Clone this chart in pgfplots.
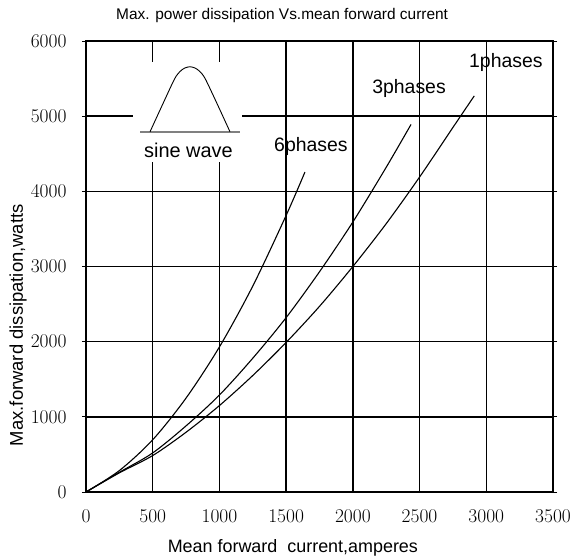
\documentclass[border=0pt]{standalone}
\usepackage{fontspec}
\setmainfont{Liberation Sans}
\newfontfamily\lmr{Latin Modern Roman}
\usepackage{pgfplots}
\pgfplotsset{compat=1.18}
\begin{document}
\begin{tikzpicture}
\begin{axis}[
  scale only axis, width=467bp, height=451bp,
  xmin=0, xmax=3500, ymin=0, ymax=6000,
  xtick={0,500,...,3500}, ytick={0,1000,...,6000},
  /pgf/number format/1000 sep={},
  /pgf/number format/assume math mode=true,
  scaled ticks=false,
  grid=major, grid style={black, line width=1.5bp},
  axis line style={black, line width=1.5bp},
  xtick style={draw=none},
  ytick style={black, line width=1bp},
  major tick length=4bp, tick align=outside,
  xticklabel style={font=\lmr\fontsize{19.5}{19.5}\selectfont, yshift=-10bp},
  yticklabel style={font=\lmr\fontsize{19.5}{19.5}\selectfont, xshift=-12bp},
  title={Max. power dissipation Vs.mean forward current},
  title style={at={(0.42,1)}, anchor=base, yshift=15.5bp, font=\fontsize{15.5}{15.5}\selectfont},
  xlabel={Mean forward\ \ current,amperes},
  xlabel style={at={(0.443,0)}, anchor=base, yshift=-60bp, font=\fontsize{18}{18}\selectfont},
  ylabel={Max.forward dissipation,watts},
  ylabel style={at={(-0.1456,0.37)}, anchor=center, font=\fontsize{18.5}{18.5}\selectfont},
  clip=false,
]
\coordinate (O) at (rel axis cs:0,0);
% white box interrupting grid around inset
\fill[white] (axis cs:352,4390) rectangle (axis cs:1169,5720);
% sine wave inset
\addplot[gray, line width=1.6bp] coordinates {(405,4793) (1154,4793)};
\addplot[black, line width=0.9bp, smooth, tension=0.45] coordinates {
 (480,4793) (580,5179) (665,5500) (705,5595) (740,5640) (779,5658)
 (818,5640) (853,5595) (893,5500) (979,5179) (1079,4793)};
\node[font=\fontsize{20}{20}\selectfont] at (axis cs:768,4550) {sine wave};
% curves
\addplot[black, line width=1.1bp, smooth] coordinates {
 (0,0) (250,285) (500,695) (750,1250) (1000,1930) (1250,2740)
 (1500,3680) (1641,4257)};
\addplot[black, line width=1.1bp, smooth] coordinates {
 (0,0) (250,262) (500,520) (750,880) (1000,1290) (1250,1780) (1500,2320)
 (1750,2930) (2000,3592) (2250,4320) (2436,4890)};
\addplot[black, line width=1.1bp, smooth] coordinates {
 (0,0) (250,255) (500,485) (750,795) (1000,1150) (1250,1550) (1500,1990)
 (1750,2470) (2000,3000) (2250,3570) (2500,4190) (2750,4850) (2910,5270)};
\node[font=\fontsize{19.5}{19.5}\selectfont] at (axis cs:3147,5720) {1phases};
\node[font=\fontsize{19.5}{19.5}\selectfont] at (axis cs:2421,5374) {3phases};
\node[font=\fontsize{19.5}{19.5}\selectfont] at (axis cs:1686,4603) {6phases};
\end{axis}
\pgfresetboundingbox
\path[use as bounding box] (O) ++(-86bp,-68bp) rectangle ++(571bp,560bp);
\end{tikzpicture}
\end{document}
